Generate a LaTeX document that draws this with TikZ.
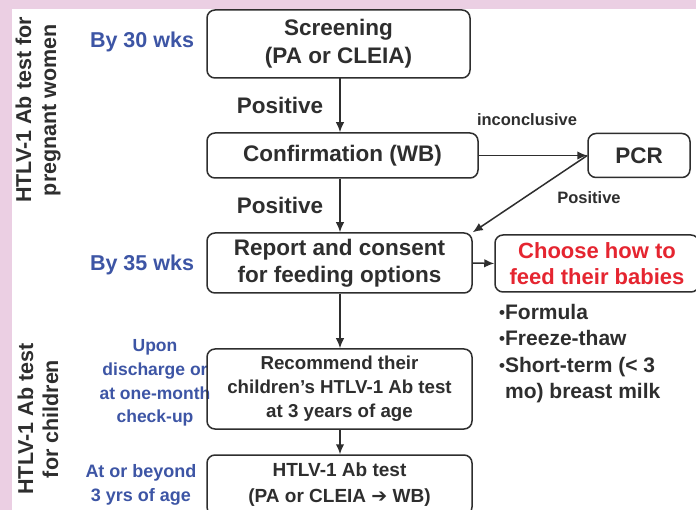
\documentclass[tikz,border=0pt]{standalone}
\usepackage{fontspec}
\setmainfont{Liberation Sans}
\newfontfamily\symfont{DejaVu Sans}
\usepackage{tikz}
\usetikzlibrary{arrows.meta}

\definecolor{bgpink}{HTML}{EBCFE3}
\definecolor{txtgray}{HTML}{2E2E2E}
\definecolor{wkblue}{HTML}{3D55A5}
\definecolor{feedred}{HTML}{E52530}

\newcommand{\bul}{\raisebox{1pt}{\fontsize{17}{17}\selectfont•}}

\tikzset{
  fsz/.style={font=\bfseries\fontsize{#1}{27}\selectfont},
  stepbox/.style={draw=txtgray, line width=1.5pt, rounded corners=8pt, align=center,
    text=txtgray, inner sep=0pt},
  when/.style={text=wkblue, align=center},
  arr/.style={-{Latex[length=10pt,width=8.5pt]}, line width=1.5pt, draw=txtgray},
}

\begin{document}
\begin{tikzpicture}[x=1pt, y=-1pt]
 \useasboundingbox (0,0) rectangle (696,510);
 \clip (0,0) rectangle (696,510);
 \fill[bgpink] (0,0) rectangle (696,510);
 \fill[white] (12,9) rectangle (700,515);

 % side headings
 \node[rotate=90, align=center, text=txtgray, font=\bfseries\fontsize{21.5}{25}\selectfont] (hdmom) at (38,110) {HTLV-1 Ab test for\\pregnant women};
 \node[rotate=90, align=center, text=txtgray, font=\bfseries\fontsize{21.5}{25}\selectfont] (hdkid) at (38,419) {HTLV-1 Ab test\\for children};

 % timing
 \node[when, fsz=21.5] (wk30) at (142,42) {By 30 wks};
 \node[when, fsz=21.5] (wk35) at (142,265) {By 35 wks};
 \node[when, font=\bfseries\fontsize{17.5}{23.7}\selectfont] (upon) at (155,383) {Upon\\discharge or\\at one-month\\check-up};
 \node[when, font=\bfseries\fontsize{18}{24.5}\selectfont] (beyond) at (141,485) {At or beyond\\3 yrs of age};

 % main column
 \node[stepbox, minimum width=263pt, minimum height=68pt, font=\bfseries\fontsize{22.5}{28}\selectfont] (screen) at (338.5,44) {Screening\\(PA or CLEIA)};
 \node[stepbox, minimum width=271pt, minimum height=45pt, font=\bfseries\fontsize{22.5}{28}\selectfont] (confirm) at (342.5,155.5) {Confirmation (WB)};
 \node[stepbox, minimum width=265pt, minimum height=60pt, font=\bfseries\fontsize{22.5}{27}\selectfont] (report) at (339.5,263) {Report and consent\\for feeding options};
 \node[stepbox, minimum width=265pt, minimum height=80pt, font=\bfseries\fontsize{18.7}{24}\selectfont] (recommend) at (339.5,389) {Recommend their\\children’s HTLV-1 Ab test\\at 3 years of age};
 \node[stepbox, minimum width=265pt, minimum height=60pt, font=\bfseries\fontsize{19}{26}\selectfont] (abtest) at (339.5,485) {HTLV-1 Ab test\\(PA or CLEIA {\symfont\bfseries ➔} WB)};

 % side branch
 \node[stepbox, minimum width=102pt, minimum height=44pt, font=\bfseries\fontsize{22.5}{28}\selectfont] (pcr) at (639,155.5) {PCR};
 \node[stepbox, minimum width=204pt, minimum height=57pt, text=feedred, font=\bfseries\fontsize{22}{26}\selectfont] (choose) at (597,263.5) {Choose how to\\feed their babies};
 \node[anchor=north west, align=left, text=txtgray, inner sep=0pt, font=\bfseries\fontsize{21}{26.5}\selectfont] (options) at (499,304)
   {\bul Formula\\\bul Freeze-thaw\\\bul Short-term (< 3\\\phantom{\bul}mo) breast milk};

 % labels on arrows
 \node[text=txtgray, fsz=22.5] (pos1) at (280,105) {Positive};
 \node[text=txtgray, fsz=22.5] (pos2) at (280,205) {Positive};
 \node[text=txtgray, fsz=16.5] (inconc) at (527,120) {inconclusive};
 \node[text=txtgray, fsz=16.5] (pos3) at (589,198) {Positive};

 % connectors
 \draw[arr] (340,78) coordinate (s1) -- (s1 |- confirm.north);
 \draw[arr] (s1 |- confirm.south) -- (s1 |- report.north);
 \draw[arr] (s1 |- report.south) -- (s1 |- recommend.north);
 \draw[arr] (s1 |- recommend.south) -- (s1 |- abtest.north);
 \draw[arr] (confirm.east) -- (pcr.west);
 \draw[arr] (pcr.west) -- (report.north east);
 \draw[arr] (report.east) -- (choose.west);
\end{tikzpicture}
\end{document}
